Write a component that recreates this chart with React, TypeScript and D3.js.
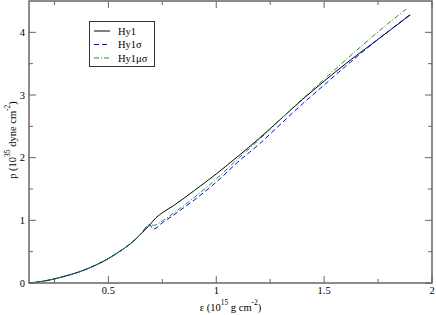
import React, { useEffect, useRef } from 'react';
import * as d3 from 'd3';

// energy density (10^15 g cm^-2) shared low-density part, then the three branches
const epsLow = [0.132, 0.2, 0.25, 0.3, 0.375, 0.45, 0.5, 0.55, 0.6, 0.65, 0.692];
const pLow = [0.0, 0.03, 0.065, 0.11, 0.19, 0.3, 0.39, 0.5, 0.62, 0.78, 0.93];

const epsHy1 = [0.72, 0.754, 0.8, 0.9, 1.0, 1.1, 1.2, 1.3, 1.4, 1.5, 1.6, 1.7, 1.8, 1.9];
const pHy1 = [1.04, 1.13, 1.23, 1.48, 1.74, 2.02, 2.31, 2.62, 2.93, 3.22, 3.5, 3.76, 4.02, 4.28];

const epsHy1s = [0.707, 0.75, 0.8, 0.9, 1.0, 1.1, 1.2, 1.3, 1.4, 1.5, 1.6, 1.7, 1.8, 1.9];
const pHy1s = [0.86, 0.96, 1.08, 1.33, 1.61, 1.93, 2.22, 2.54, 2.86, 3.16, 3.46, 3.75, 4.02, 4.29];

const epsHy1ms = [0.71, 0.75, 0.8, 0.9, 1.0, 1.1, 1.2, 1.3, 1.4, 1.5, 1.6, 1.7, 1.8, 1.88];
const pHy1ms = [0.92, 0.99, 1.11, 1.37, 1.66, 1.98, 2.29, 2.62, 2.94, 3.25, 3.56, 3.86, 4.15, 4.37];

const xTicks = [0.5, 1, 1.5, 2];
const xMinor = [0.25, 0.75, 1.25, 1.75];
const yTicks = [0, 1, 2, 3, 4];
const yMinor = [0.5, 1.5, 2.5, 3.5];

const series = [
  { name: 'Hy1', eps: epsHy1, p: pHy1, color: '#000000', dash: null },
  { name: 'Hy1σ', eps: epsHy1s, p: pHy1s, color: '#0000ff', dash: '5,3' },
  { name: 'Hy1μσ', eps: epsHy1ms, p: pHy1ms, color: '#159a15', dash: '5,2,1,2' },
];

const App = () => {
  const ref = useRef<SVGSVGElement | null>(null);

  useEffect(() => {
    if (!ref.current) return;
    const W = 436, H = 315;
    const margin = { top: 1, right: 4, bottom: 32, left: 29 };
    const svg = d3.select(ref.current);
    svg.selectAll('*').remove();

    const x = d3.scaleLinear().domain([0.132, 2]).range([margin.left, W - margin.right]);
    const y = d3.scaleLinear().domain([0, 4.5]).range([H - margin.bottom, margin.top]);
    const font = '"Liberation Serif", "DejaVu Serif", serif';
    const axisColor = '#666';

    // curves
    const line = d3.line<[number, number]>()
      .x(d => x(d[0]))
      .y(d => y(d[1]))
      .curve(d3.curveMonotoneX);

    series.forEach(s => {
      const pts: [number, number][] = epsLow.map((e, i) => [e, pLow[i]] as [number, number])
        .concat(s.eps.map((e, i) => [e, s.p[i]] as [number, number]));
      const path = svg.append('path')
        .attr('d', line(pts))
        .attr('fill', 'none')
        .attr('stroke', s.color)
        .attr('stroke-width', 1);
      if (s.dash) path.attr('stroke-dasharray', s.dash);
    });

    // frame
    svg.append('rect')
      .attr('x', x.range()[0]).attr('y', y.range()[1])
      .attr('width', x.range()[1] - x.range()[0])
      .attr('height', y.range()[0] - y.range()[1])
      .attr('fill', 'none').attr('stroke', axisColor).attr('stroke-width', 1.5);

    // inward ticks on all four sides
    const tickG = svg.append('g').attr('stroke', axisColor).attr('stroke-width', 1);
    const xt = (vals: number[], len: number) => vals.forEach(v => {
      tickG.append('line').attr('x1', x(v)).attr('x2', x(v)).attr('y1', y(0)).attr('y2', y(0) - len);
      tickG.append('line').attr('x1', x(v)).attr('x2', x(v)).attr('y1', y(4.5)).attr('y2', y(4.5) + len);
    });
    const yt = (vals: number[], len: number) => vals.forEach(v => {
      tickG.append('line').attr('y1', y(v)).attr('y2', y(v)).attr('x1', x(0.132)).attr('x2', x(0.132) + len);
      tickG.append('line').attr('y1', y(v)).attr('y2', y(v)).attr('x1', x(2)).attr('x2', x(2) - len);
    });
    xt(xTicks, 7); xt(xMinor, 4);
    yt(yTicks, 7); yt(yMinor, 4);

    // tick labels
    svg.append('g').selectAll('text').data(xTicks).enter().append('text')
      .attr('x', d => x(d)).attr('y', y(0) + 11)
      .attr('text-anchor', 'middle').attr('font-family', font).attr('font-size', 10.5)
      .text(d => String(d));
    svg.append('g').selectAll('text').data(yTicks).enter().append('text')
      .attr('x', margin.left - 4).attr('y', d => y(d) + 3.5)
      .attr('text-anchor', 'end').attr('font-family', font).attr('font-size', 10.5)
      .text(d => String(d));

    // axis labels
    const xl = svg.append('text')
      .attr('x', (x.range()[0] + x.range()[1]) / 2).attr('y', H - 4)
      .attr('text-anchor', 'middle').attr('font-family', font).attr('font-size', 10.5);
    xl.append('tspan').text('ε (10');
    xl.append('tspan').attr('dy', -6).attr('font-size', 7.5).text('15');
    xl.append('tspan').attr('dy', 6).text(' g cm');
    xl.append('tspan').attr('dy', -6).attr('font-size', 7.5).text('-2');
    xl.append('tspan').attr('dy', 6).text(')');

    const yl = svg.append('text')
      .attr('transform', `translate(16,140) rotate(-90)`)
      .attr('text-anchor', 'middle').attr('font-family', font).attr('font-size', 10.5);
    yl.append('tspan').text('p (10');
    yl.append('tspan').attr('dy', -6).attr('font-size', 7.5).text('35');
    yl.append('tspan').attr('dy', 6).text(' dyne cm');
    yl.append('tspan').attr('dy', -6).attr('font-size', 7.5).text('-2');
    yl.append('tspan').attr('dy', 6).text(')');

    // legend
    const lg = svg.append('g');
    lg.append('rect').attr('x', 89.5).attr('y', 21.5).attr('width', 65).attr('height', 45)
      .attr('fill', '#fff').attr('stroke', '#333').attr('stroke-width', 1);
    series.forEach((s, i) => {
      const ly = 31 + i * 13.5;
      const l = lg.append('line').attr('x1', 94).attr('x2', 110).attr('y1', ly).attr('y2', ly)
        .attr('stroke', s.color).attr('stroke-width', 1);
      if (s.dash) l.attr('stroke-dasharray', s.dash);
      lg.append('text').attr('x', 118).attr('y', ly + 3.5)
        .attr('font-family', font).attr('font-size', 10.5).text(s.name);
    });
  }, []);

  return (
    <svg ref={ref} width={436} height={315}
      style={{ position: 'absolute', left: 0, top: 0, background: '#fff' }} />
  );
};

export default App;
